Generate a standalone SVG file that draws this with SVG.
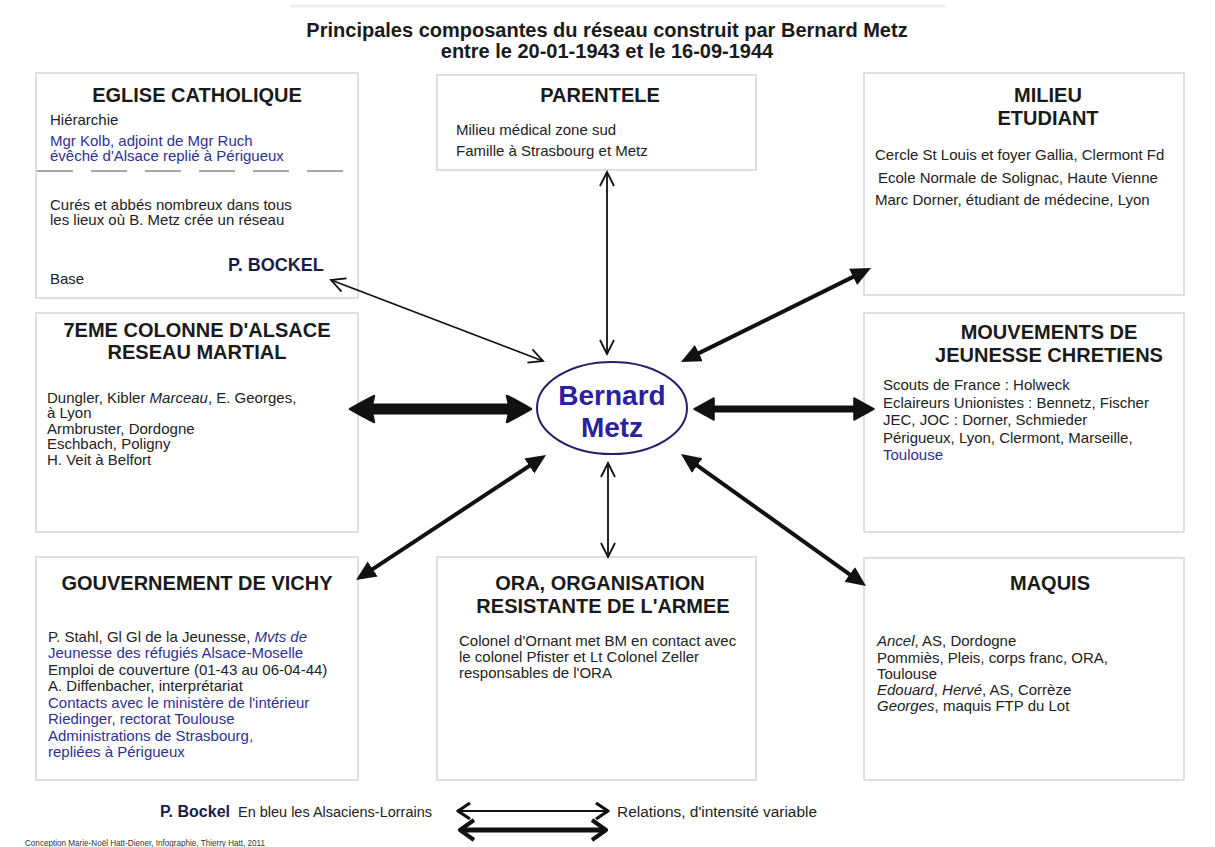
<svg xmlns="http://www.w3.org/2000/svg" width="1215" height="847" viewBox="0 0 1215 847">
<style>
text{font-family:"Liberation Sans",Arial,Helvetica,sans-serif}
.t{font-size:15px;fill:#222}
.bl{fill:#2e3192}
.i{font-style:italic}
.h{font-size:20px;font-weight:bold;text-anchor:middle;fill:#1a1a1a}
.box{fill:#fff;stroke:#dcdcdc;stroke-width:1.8}
.thin{stroke:#111;stroke-width:1.8;fill:none}
.thick{stroke:#111;fill:none}
</style>
<defs>
<marker id="oh" viewBox="-16 -9 18 18" refX="0" refY="0" markerWidth="18" markerHeight="18" markerUnits="userSpaceOnUse" orient="auto-start-reverse">
<path d="M-14,-7 L0,0 L-14,7" fill="none" stroke="#111" stroke-width="1.8"/>
</marker>
<marker id="fh4" viewBox="0 -10 21 20" refX="5" refY="0" markerWidth="21" markerHeight="20" markerUnits="userSpaceOnUse" orient="auto-start-reverse">
<path d="M0,-9 L20,0 L0,9 Z" fill="#111"/>
</marker>
<marker id="fh7" viewBox="-1 -12 22 24" refX="4" refY="0" markerWidth="22" markerHeight="24" markerUnits="userSpaceOnUse" orient="auto-start-reverse">
<path d="M0,-11 L20,0 L0,11 Z" fill="#111" stroke="#111" stroke-width="1.5" stroke-linejoin="round"/>
</marker>
<marker id="fh11" viewBox="-2 -15 28 30" refX="5" refY="0" markerWidth="28" markerHeight="30" markerUnits="userSpaceOnUse" orient="auto-start-reverse">
<path d="M0,-13 Q10,-8 24,0 Q10,8 0,13 Q4,0 0,-13 Z" fill="#111" stroke="#111" stroke-width="2.5" stroke-linejoin="round"/>
</marker>
<marker id="lg1" viewBox="-16 -10 18 20" refX="0" refY="0" markerWidth="18" markerHeight="20" markerUnits="userSpaceOnUse" orient="auto-start-reverse">
<path d="M-12,-8 L0,0 L-12,8" fill="none" stroke="#111" stroke-width="3.2" stroke-linejoin="round"/>
</marker>
<marker id="lg2" viewBox="-18 -12 20 24" refX="0" refY="0" markerWidth="20" markerHeight="24" markerUnits="userSpaceOnUse" orient="auto-start-reverse">
<path d="M-14,-10 L0,0 L-14,10" fill="none" stroke="#111" stroke-width="4" stroke-linejoin="round"/>
</marker>
</defs>
<rect width="1215" height="847" fill="#fff"/>
<line x1="290" y1="6" x2="945" y2="6" stroke="#ececec" stroke-width="3"/>

<g id="title">
<text x="607" y="37" style="font-size:20px;font-weight:bold;text-anchor:middle;fill:#1a1a1a">Principales composantes du réseau construit par Bernard Metz</text>
<text x="607" y="58" style="font-size:20px;font-weight:bold;text-anchor:middle;fill:#1a1a1a">entre le 20-01-1943 et le 16-09-1944</text>
</g>

<g id="eglise">
<rect class="box" x="36" y="73" width="322" height="225"/>
<text class="h" x="197" y="102">EGLISE CATHOLIQUE</text>
<text class="t" x="50" y="125">Hiérarchie</text>
<text class="t bl" x="50" y="146">Mgr Kolb, adjoint de Mgr Ruch</text>
<text class="t bl" x="50" y="161">évêché d'Alsace replié à Périgueux</text>
<line x1="37" y1="171" x2="357" y2="171" stroke="#8a8a8a" stroke-width="1.5" stroke-dasharray="36 18"/>
<text class="t" x="50" y="210">Curés et abbés nombreux dans tous</text>
<text class="t" x="50" y="225">les lieux où B. Metz crée un réseau</text>
<text class="t" x="50" y="284">Base</text>
<text x="228" y="271" style="font-size:18px;font-weight:bold;fill:#1b1b4a">P. BOCKEL</text>
</g>

<g id="parentele">
<rect class="box" x="437" y="75" width="319" height="95"/>
<text class="h" x="600" y="102">PARENTELE</text>
<text class="t" x="456" y="135">Milieu médical zone sud</text>
<text class="t" x="456" y="156">Famille à Strasbourg et Metz</text>
</g>

<g id="milieu">
<rect class="box" x="864" y="73" width="320" height="222"/>
<text class="h" x="1048" y="102">MILIEU</text>
<text class="h" x="1048" y="125">ETUDIANT</text>
<text class="t" x="875" y="160">Cercle St Louis et foyer Gallia, Clermont Fd</text>
<text class="t" x="878" y="183">Ecole Normale de Solignac, Haute Vienne</text>
<text class="t" x="875" y="205">Marc Dorner, étudiant de médecine, Lyon</text>
</g>

<g id="colonne">
<rect class="box" x="36" y="313" width="322" height="219"/>
<text class="h" x="197" y="337">7EME COLONNE D'ALSACE</text>
<text class="h" x="197" y="359">RESEAU MARTIAL</text>
<text class="t" x="47" y="403">Dungler, Kibler <tspan class="i">Marceau</tspan>, E. Georges,</text>
<text class="t" x="47" y="418">à Lyon</text>
<text class="t" x="47" y="434">Armbruster, Dordogne</text>
<text class="t" x="47" y="449">Eschbach, Poligny</text>
<text class="t" x="47" y="465">H. Veit à Belfort</text>
</g>

<g id="mouvements">
<rect class="box" x="864" y="313" width="320" height="219"/>
<text class="h" x="1049" y="339">MOUVEMENTS DE</text>
<text class="h" x="1049" y="362">JEUNESSE CHRETIENS</text>
<text class="t" x="883" y="390">Scouts de France : Holweck</text>
<text class="t" x="883" y="408">Eclaireurs Unionistes : Bennetz, Fischer</text>
<text class="t" x="883" y="425">JEC, JOC : Dorner, Schmieder</text>
<text class="t" x="883" y="443">Périgueux, Lyon, Clermont, Marseille,</text>
<text class="t bl" x="883" y="460">Toulouse</text>
</g>

<g id="vichy">
<rect class="box" x="36" y="557" width="322" height="223"/>
<text class="h" x="197" y="590">GOUVERNEMENT DE VICHY</text>
<text class="t" x="48" y="642">P. Stahl, Gl Gl de la Jeunesse, <tspan class="bl i">Mvts de</tspan></text>
<text class="t bl" x="48" y="658">Jeunesse des réfugiés Alsace-Moselle</text>
<text class="t" x="48" y="675">Emploi de couverture (01-43 au 06-04-44)</text>
<text class="t" x="48" y="691">A. Diffenbacher, interprétariat</text>
<text class="t bl" x="48" y="708">Contacts avec le ministère de l'intérieur</text>
<text class="t bl" x="48" y="724">Riedinger, rectorat Toulouse</text>
<text class="t bl" x="48" y="741">Administrations de Strasbourg,</text>
<text class="t bl" x="48" y="757">repliées à Périgueux</text>
</g>

<g id="ora">
<rect class="box" x="437" y="557" width="319" height="223"/>
<text class="h" x="600" y="590">ORA, ORGANISATION</text>
<text class="h" x="603" y="613">RESISTANTE DE L'ARMEE</text>
<text class="t" x="459" y="646">Colonel d'Ornant met BM en contact avec</text>
<text class="t" x="459" y="662">le colonel Pfister et Lt Colonel Zeller</text>
<text class="t" x="459" y="678">responsables de l'ORA</text>
</g>

<g id="maquis">
<rect class="box" x="864" y="558" width="320" height="222"/>
<text class="h" x="1050" y="590">MAQUIS</text>
<text class="t" x="877" y="646"><tspan class="i">Ancel</tspan>, AS, Dordogne</text>
<text class="t" x="877" y="663">Pommiès, Pleis, corps franc, ORA,</text>
<text class="t" x="877" y="679">Toulouse</text>
<text class="t" x="877" y="695"><tspan class="i">Edouard</tspan>, <tspan class="i">Hervé</tspan>, AS, Corrèze</text>
<text class="t" x="877" y="711"><tspan class="i">Georges</tspan>, maquis FTP du Lot</text>
</g>

<g id="connectors">
<line class="thin" x1="331" y1="280" x2="543" y2="361" marker-start="url(#oh)" marker-end="url(#oh)"/>
<line class="thin" x1="607" y1="172" x2="607" y2="354" marker-start="url(#oh)" marker-end="url(#oh)"/>
<line class="thin" x1="608" y1="463" x2="608" y2="557" stroke-width="2" marker-start="url(#oh)" marker-end="url(#oh)"/>
<line class="thick" x1="694.4" y1="355.4" x2="857.6" y2="274.6" stroke-width="4" marker-start="url(#fh4)" marker-end="url(#fh4)"/>
<line class="thick" x1="533.5" y1="463.2" x2="368.5" y2="571.8" stroke-width="4" marker-start="url(#fh4)" marker-end="url(#fh4)"/>
<line class="thick" x1="693.2" y1="462.7" x2="853.8" y2="577.3" stroke-width="4" marker-start="url(#fh4)" marker-end="url(#fh4)"/>
<line class="thick" x1="369" y1="409" x2="512" y2="409" stroke-width="11" marker-start="url(#fh11)" marker-end="url(#fh11)"/>
<line class="thick" x1="710" y1="409" x2="858" y2="409" stroke-width="7" marker-start="url(#fh7)" marker-end="url(#fh7)"/>
<line class="thin" x1="458" y1="811" x2="608" y2="811" stroke-width="2" marker-start="url(#lg1)" marker-end="url(#lg1)"/>
<line class="thick" x1="460" y1="830" x2="606" y2="830" stroke-width="5" marker-start="url(#lg2)" marker-end="url(#lg2)"/>
</g>

<g id="bernard">
<ellipse cx="612" cy="408" rx="75" ry="46" fill="#fff" stroke="#20206a" stroke-width="2"/>
<text x="612" y="405" style="font-size:28px;font-weight:bold;text-anchor:middle;fill:#2a20a0">Bernard</text>
<text x="612" y="437" style="font-size:28px;font-weight:bold;text-anchor:middle;fill:#2a20a0">Metz</text>
</g>

<g id="legend">
<text x="160" y="817" style="font-size:16px;font-weight:bold;fill:#1b1b4a">P. Bockel</text>
<text x="238" y="817" style="font-size:14px;fill:#222" textLength="194" lengthAdjust="spacingAndGlyphs">En bleu les Alsaciens-Lorrains</text>
<text x="617" y="817" style="font-size:14px;fill:#222" textLength="200" lengthAdjust="spacingAndGlyphs">Relations, d'intensité variable</text>
<text x="25" y="846" style="font-size:9px;fill:#333" textLength="240" lengthAdjust="spacingAndGlyphs">Conception Marie-Noël Hatt-Diener, Infographie, Thierry Hatt, 2011</text>
</g>
</svg>
